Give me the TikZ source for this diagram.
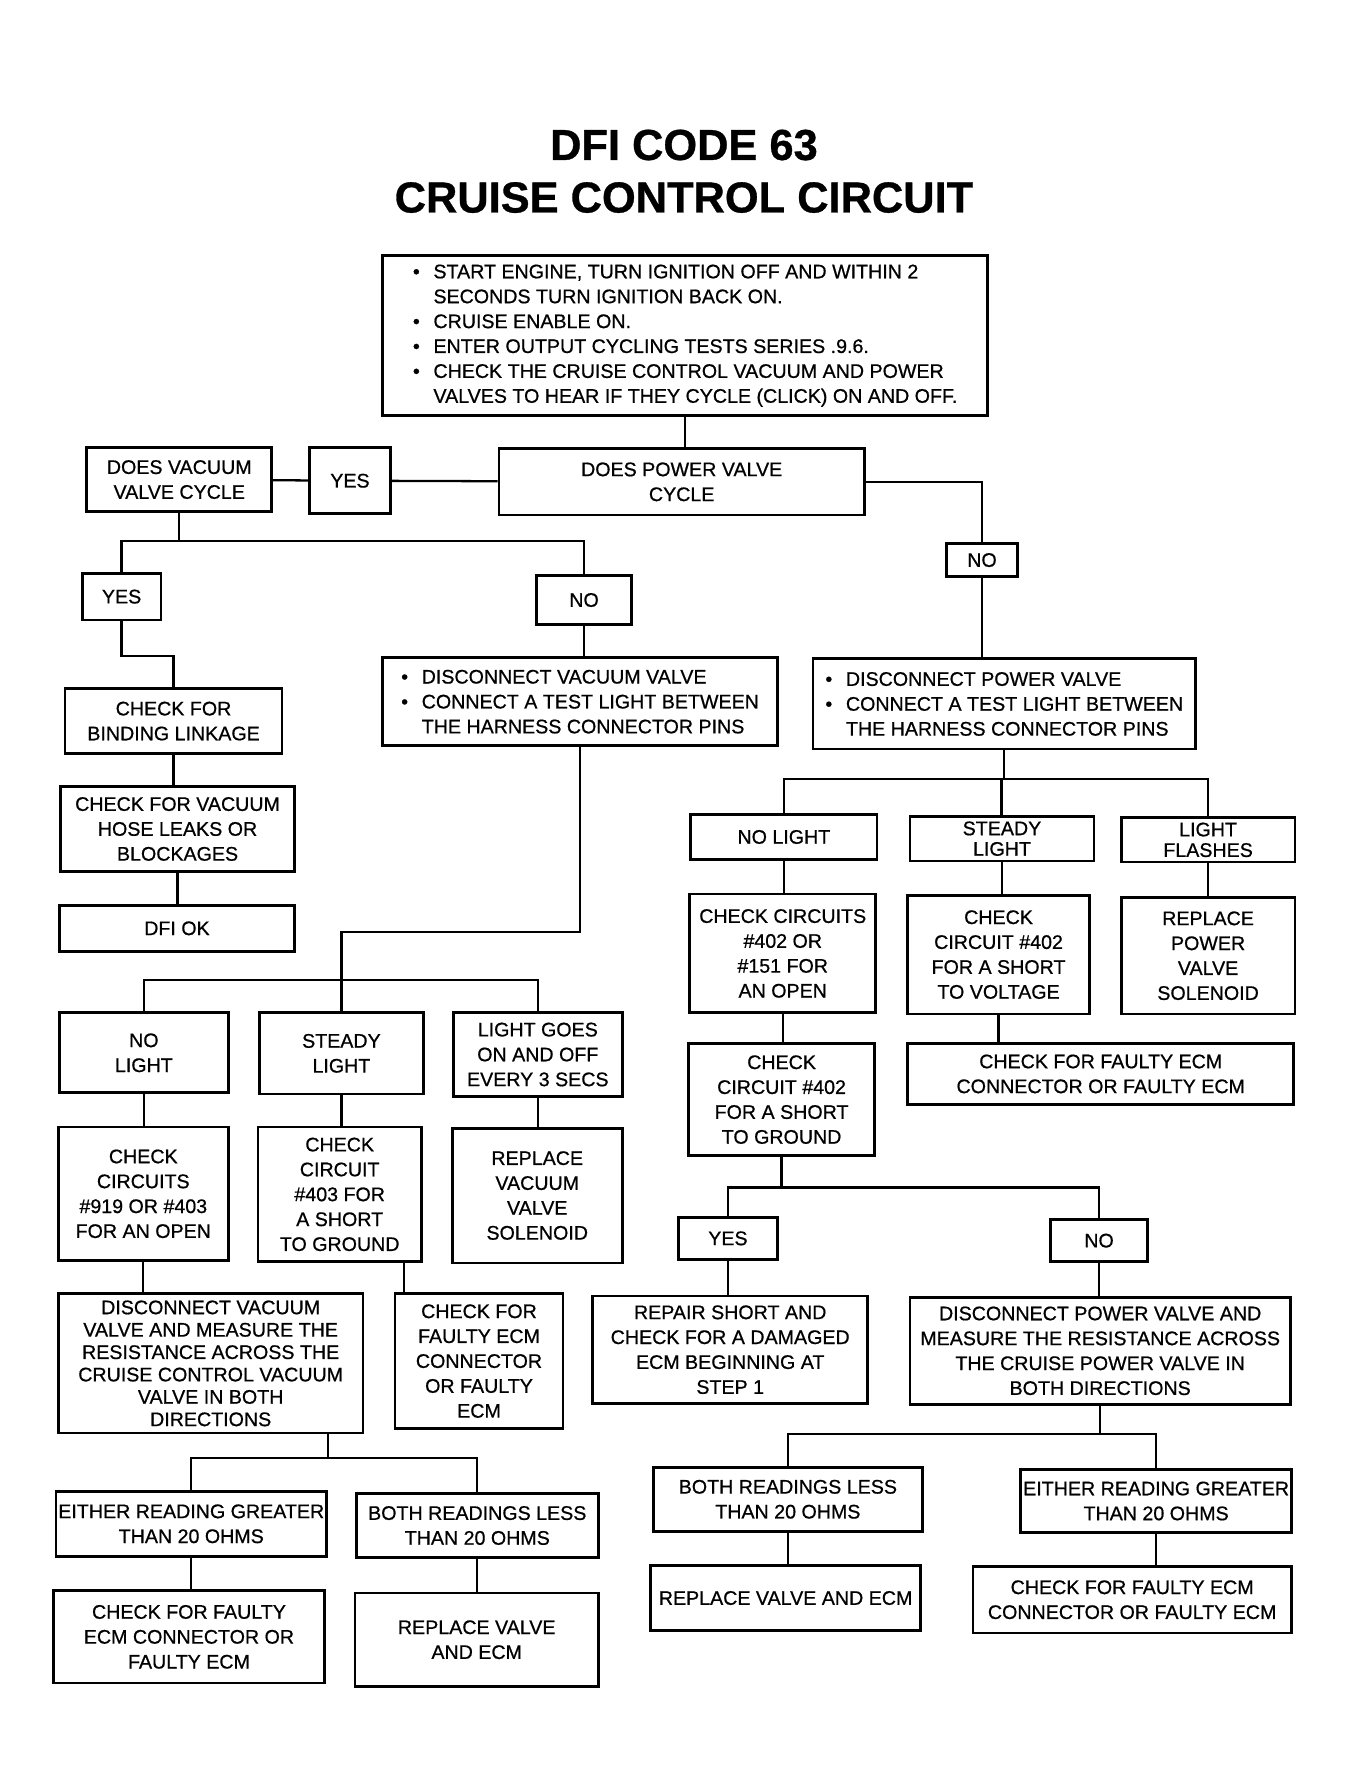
\documentclass[tikz,border=0pt]{standalone}
\usepackage{fontspec}
\setmainfont[FakeBold=0.7]{Liberation Sans}
\usetikzlibrary{positioning}
\newcommand{\bodyfont}{\fontsize{17.2}{21.8}\selectfont}
\newcommand{\tightfont}{\fontsize{17.2}{18}\selectfont}
\newcommand{\titlefont}{\fontsize{38}{46}\selectfont\bfseries}
\tikzstyle{flowbox}=[draw, rectangle, line width=2.4pt, align=center, inner sep=1pt, font=\bodyfont]
\tikzstyle{listbox}=[flowbox, align=left]
\tikzstyle{link}=[line width=2pt]
\tikzset{wh/.style 2 args={minimum width=#1pt, minimum height=#2pt}}
\newcommand{\flow}{\node[flowbox]}
\newcommand{\bl}{\makebox[18pt][l]{\textbullet}}
\newcommand{\ind}{\hspace*{18pt}}
\newcommand{\drop}[2]{\draw[link] (#1.south) -- (#1.south |- #2.north);}

\begin{document}
\begin{tikzpicture}[x=1pt, y=-1pt]
\useasboundingbox (0,0) rectangle (1200,1565);
\node[font=\titlefont, align=center] (title) at (599,150) {DFI CODE 63\\CRUISE CONTROL CIRCUIT};
% top of the chart
\node[listbox, wh={530}{140}] (top) at (600,294) {\bl START ENGINE, TURN IGNITION OFF AND WITHIN 2\\
\ind SECONDS TURN IGNITION BACK ON.\\
\bl CRUISE ENABLE ON.\\
\bl ENTER OUTPUT CYCLING TESTS SERIES .9.6.\\
\bl CHECK THE CRUISE CONTROL VACUUM AND POWER\\
\ind VALVES TO HEAR IF THEY CYCLE (CLICK) ON AND OFF.};
\flow[wh={162}{56}] (vac) at (157,420) {DOES VACUUM\\VALVE CYCLE};
\flow[wh={71}{58}] (yesm) at (306.5,421) {YES};
\flow[wh={320}{58}] (power) at (597,422) {DOES POWER VALVE\\CYCLE};
% vacuum valve side
\flow[wh={69}{41}] (yesL) at (106.5,522.5) {YES};
\flow[wh={83}{43}] (noL) at (511.5,525.5) {NO};
\flow[wh={190}{57}] (bind) at (152,631.5) {CHECK FOR\\BINDING LINKAGE};
\flow[wh={205}{74}] (hose) at (155.5,726) {CHECK FOR VACUUM\\HOSE LEAKS OR\\BLOCKAGES};
\flow[wh={206}{40}] (dfiok) at (155,813) {DFI OK};
\node[listbox, wh={346}{77}] (discvac) at (508,614.5) {\bl DISCONNECT VACUUM VALVE\\
\bl CONNECT A TEST LIGHT BETWEEN\\
\ind THE HARNESS CONNECTOR PINS};
\flow[wh={148}{70}] (nolL) at (126,922) {NO\\LIGHT};
\flow[wh={144}{71}] (stdL) at (299,922.5) {STEADY\\LIGHT};
\flow[wh={148}{73}] (goesL) at (471,923.5) {LIGHT GOES\\ON AND OFF\\EVERY 3 SECS};
\flow[wh={149}{117}] (c919) at (125.5,1045.5) {CHECK\\CIRCUITS\\\#919 OR \#403\\FOR AN OPEN};
\flow[wh={143}{118}] (c403) at (297.5,1046) {CHECK\\CIRCUIT\\\#403 FOR\\A SHORT\\TO GROUND};
\flow[wh={149}{118}] (rvac) at (470.5,1047) {REPLACE\\VACUUM\\VALVE\\SOLENOID};
\flow[wh={267}{122}, font=\fontsize{17.2}{19.6}\selectfont] (dvacL) at (184.5,1194) {DISCONNECT VACUUM\\VALVE AND MEASURE THE\\RESISTANCE ACROSS THE\\CRUISE CONTROL VACUUM\\VALVE IN BOTH\\DIRECTIONS};
\flow[wh={147}{118}] (ecmL) at (419.5,1192) {CHECK FOR\\FAULTY ECM\\CONNECTOR\\OR FAULTY\\ECM};
\flow[wh={237}{57}] (grtL) at (167.5,1334.5) {EITHER READING GREATER\\THAN 20 OHMS};
\flow[wh={212}{56}] (lessL) at (418,1336) {BOTH READINGS LESS\\THAN 20 OHMS};
\flow[wh={237}{81}] (ecmL2) at (165.5,1433.5) {CHECK FOR FAULTY\\ECM CONNECTOR OR\\FAULTY ECM};
\flow[wh={213}{82}] (rveL) at (417.5,1436) {REPLACE VALVE\\AND ECM};
% power valve side
\flow[wh={62}{29}] (noPw) at (860,490.5) {NO};
\node[listbox, wh={335}{79}] (discpow) at (879.5,616.5) {\bl DISCONNECT POWER VALVE\\
\bl CONNECT A TEST LIGHT BETWEEN\\
\ind THE HARNESS CONNECTOR PINS};
\flow[wh={163}{40}] (nolR) at (686.5,733) {NO LIGHT};
\flow[wh={161}{39}, font=\tightfont] (stdR) at (877.5,734.5) {STEADY\\LIGHT};
\flow[wh={152}{39}, font=\tightfont] (flsR) at (1058,735.5) {LIGHT\\FLASHES};
\flow[wh={163}{104}] (cc402) at (685.5,835) {CHECK CIRCUITS\\\#402 OR\\\#151 FOR\\AN OPEN};
\flow[wh={159}{104}] (c402v) at (874.5,836) {CHECK\\CIRCUIT \#402\\FOR A SHORT\\TO VOLTAGE};
\flow[wh={152}{102}] (rplpw) at (1058,837) {REPLACE\\POWER\\VALVE\\SOLENOID};
\flow[wh={338}{53}] (ecmR1) at (964,940.5) {CHECK FOR FAULTY ECM\\CONNECTOR OR FAULTY ECM};
\flow[wh={163}{98}] (c402g) at (684.5,963) {CHECK\\CIRCUIT \#402\\FOR A SHORT\\TO GROUND};
\flow[wh={87}{37}] (yesR) at (637.5,1084.5) {YES};
\flow[wh={85}{37}] (noR) at (962.5,1086.5) {NO};
\flow[wh={241}{94}] (repair) at (639.5,1182) {REPAIR SHORT AND\\CHECK FOR A DAMAGED\\ECM BEGINNING AT\\STEP 1};
\flow[wh={333}{94}] (dpwR) at (963.5,1183) {DISCONNECT POWER VALVE AND\\MEASURE THE RESISTANCE ACROSS\\THE CRUISE POWER VALVE IN\\BOTH DIRECTIONS};
\flow[wh={236}{56}] (lessR) at (690,1313) {BOTH READINGS LESS\\THAN 20 OHMS};
\flow[wh={237}{55}] (grtR) at (1012.5,1314.5) {EITHER READING GREATER\\THAN 20 OHMS};
\flow[wh={236}{57}] (rveR) at (688,1399.5) {REPLACE VALVE AND ECM};
\flow[wh={279}{58}] (ecmR2) at (991.5,1401) {CHECK FOR FAULTY ECM\\CONNECTOR OR FAULTY ECM};
% branch points
\coordinate (vbr) at (157,474);
\coordinate (lbr) at (299,858);
\coordinate (dbr) at (287,1277);
\coordinate (rbr) at (877,682);
\coordinate (gbr) at (684,1040);
\coordinate (pbr) at (963.5,1256);
% connectors
\draw[link] (top.south) -- (top.south |- power.north);
\draw[link] (vac) -- (yesm) -- (power);
\draw[link] (power.east) -| (noPw);
\drop{noPw}{discpow}
\draw[link] (vac.south) -- (vbr);
\draw[link] (yesL) |- (vbr) -| (noL);
\draw[link] (yesL.south) -- ++(0,30) -| (bind.north);
\drop{bind}{hose}
\drop{hose}{dfiok}
\drop{noL}{discvac}
\draw[link] (discvac.south) -- ++(0,162) -| (lbr);
\draw[link] (nolL) |- (lbr) -| (goesL);
\draw[link] (lbr) -- (lbr |- stdL.north);
\drop{nolL}{c919}
\drop{stdL}{c403}
\drop{goesL}{rvac}
\drop{c919}{dvacL}
\draw[link] ([xshift=9pt]ecmL.north west) -- ([xshift=9pt]ecmL.north west |- c403.south);
\draw[link] (dbr |- dvacL.south) -- (dbr);
\draw[link] (grtL) |- (dbr) -| (lessL);
\drop{grtL}{ecmL2}
\drop{lessL}{rveL}
\draw[link] (discpow.south) -- (discpow.south |- rbr);
\draw[link] (nolR) |- (rbr) -| (flsR);
\draw[link] (rbr) -- (rbr |- stdR.north);
\drop{nolR}{cc402}
\drop{cc402}{c402g}
\drop{stdR}{c402v}
\drop{c402v}{ecmR1}
\drop{flsR}{rplpw}
\draw[link] (c402g.south) -- (c402g.south |- gbr);
\draw[link] (yesR) |- (gbr) -| (noR);
\drop{yesR}{repair}
\drop{noR}{dpwR}
\draw[link] (dpwR.south) -- (pbr);
\draw[link] (lessR) |- (pbr) -| (grtR);
\drop{lessR}{rveR}
\drop{grtR}{ecmR2}
\end{tikzpicture}
\end{document}
